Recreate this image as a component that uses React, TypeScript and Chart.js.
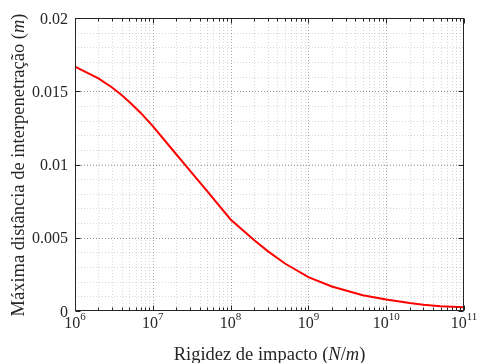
import React, { useEffect, useRef } from 'react';
import { Chart, registerables } from 'chart.js';

Chart.register(...registerables);

// Data
const stiffness = [1e6, 2e6, 3e6, 4e6, 5e6, 7e6, 1e7, 2e7, 3e7, 5e7, 1e8, 2e8, 3e8, 5e8, 1e9, 2e9, 5e9, 1e10, 2e10, 3e10, 5e10, 1e11];
const penetration = [0.01668, 0.01588, 0.01526, 0.01473, 0.01427, 0.01352, 0.01262, 0.0107, 0.00958, 0.00818, 0.00625, 0.00484, 0.00409, 0.00324, 0.00231, 0.00167, 0.00108, 0.00078, 0.00054, 0.00043, 0.00033, 0.00025];
const xTickExponents = [6, 7, 8, 9, 10, 11];
const yTickValues = [0, 0.005, 0.01, 0.015, 0.02];
const yTickLabels = ['0', '0.005', '0.01', '0.015', '0.02'];
const yMinorStep = 0.001;

const FONT = '"Liberation Serif", "Times New Roman", serif';
const TEXT = '#262626';

const matlabPlugin = {
  id: 'matlabAxes',
  beforeDatasetsDraw(chart: any) {
    const { ctx, chartArea: a, scales } = chart;
    const xs = scales.x, ys = scales.y;
    ctx.save();
    ctx.lineWidth = 1;
    ctx.setLineDash([1, 2]);
    ctx.strokeStyle = 'rgba(0,0,0,0.15)';
    for (let e = xTickExponents[0]; e < xTickExponents[xTickExponents.length - 1]; e++) {
      for (let k = 2; k <= 9; k++) {
        const px = Math.round(xs.getPixelForValue(k * Math.pow(10, e))) + 0.5;
        ctx.beginPath(); ctx.moveTo(px, a.top); ctx.lineTo(px, a.bottom); ctx.stroke();
      }
    }
    for (let v = yMinorStep; v < 0.02 - 1e-9; v += yMinorStep) {
      const py = Math.round(ys.getPixelForValue(v)) + 0.5;
      ctx.beginPath(); ctx.moveTo(a.left, py); ctx.lineTo(a.right, py); ctx.stroke();
    }
    ctx.strokeStyle = 'rgba(0,0,0,0.33)';
    xTickExponents.slice(1, -1).forEach((e) => {
      const px = Math.round(xs.getPixelForValue(Math.pow(10, e))) + 0.5;
      ctx.beginPath(); ctx.moveTo(px, a.top); ctx.lineTo(px, a.bottom); ctx.stroke();
    });
    yTickValues.slice(1, -1).forEach((v) => {
      const py = Math.round(ys.getPixelForValue(v)) + 0.5;
      ctx.beginPath(); ctx.moveTo(a.left, py); ctx.lineTo(a.right, py); ctx.stroke();
    });
    ctx.restore();
  },
  afterDatasetsDraw(chart: any) {
    const { ctx, chartArea: a, scales } = chart;
    const xs = scales.x, ys = scales.y;
    ctx.save();
    ctx.strokeStyle = TEXT;
    ctx.lineWidth = 1;
    ctx.setLineDash([]);
    const L = Math.round(a.left) + 0.5, R = Math.round(a.right) - 0.5;
    const T = Math.round(a.top) + 0.5, B = Math.round(a.bottom) - 0.5;
    ctx.strokeRect(L, T, R - L, B - T);
    for (let e = xTickExponents[0]; e <= xTickExponents[xTickExponents.length - 1]; e++) {
      for (let k = 1; k <= 9; k++) {
        if (e === xTickExponents[xTickExponents.length - 1] && k > 1) break;
        const px = Math.round(xs.getPixelForValue(k * Math.pow(10, e))) + 0.5;
        const len = k === 1 ? 5 : 3;
        ctx.beginPath();
        ctx.moveTo(px, B); ctx.lineTo(px, B - len);
        ctx.moveTo(px, T); ctx.lineTo(px, T + len);
        ctx.stroke();
      }
    }
    yTickValues.forEach((v) => {
      const py = Math.round(ys.getPixelForValue(v)) + 0.5;
      ctx.beginPath();
      ctx.moveTo(L, py); ctx.lineTo(L + 5, py);
      ctx.moveTo(R, py); ctx.lineTo(R - 5, py);
      ctx.stroke();
    });
    ctx.restore();
  },
  afterDraw(chart: any) {
    const { ctx, chartArea: a, scales } = chart;
    const xs = scales.x, ys = scales.y;
    ctx.save();
    ctx.fillStyle = TEXT;
    ctx.font = `16px ${FONT}`;
    ctx.textAlign = 'right';
    ctx.textBaseline = 'alphabetic';
    yTickValues.forEach((v, i) => {
      const py = ys.getPixelForValue(v);
      ctx.fillText(yTickLabels[i], a.left - 7, py + 5.5);
    });
    ctx.textAlign = 'left';
    xTickExponents.forEach((e) => {
      const px = xs.getPixelForValue(Math.pow(10, e));
      ctx.font = `16px ${FONT}`;
      const wb = ctx.measureText('10').width;
      ctx.font = `11px ${FONT}`;
      const we = ctx.measureText(String(e)).width;
      const x0 = px - (wb + we) / 2;
      ctx.font = `16px ${FONT}`;
      ctx.fillText('10', x0, a.bottom + 17);
      ctx.font = `11px ${FONT}`;
      ctx.fillText(String(e), x0 + wb, a.bottom + 9);
    });
    const drawParts = (parts: [string, boolean][], size: number) => {
      let total = 0;
      parts.forEach(([t, it]) => {
        ctx.font = `${it ? 'italic ' : ''}${size}px ${FONT}`;
        total += ctx.measureText(t).width;
      });
      let x = -total / 2;
      parts.forEach(([t, it]) => {
        ctx.font = `${it ? 'italic ' : ''}${size}px ${FONT}`;
        ctx.fillText(t, x, 0);
        x += ctx.measureText(t).width;
      });
    };
    ctx.textAlign = 'left';
    ctx.textBaseline = 'alphabetic';
    ctx.save();
    ctx.translate((a.left + a.right) / 2, 360);
    drawParts([['Rigidez de impacto (', false], ['N', true], ['/', false], ['m', true], [')', false]], 18.5);
    ctx.restore();
    ctx.save();
    ctx.translate(23.5, (a.top + a.bottom) / 2 + 0.5);
    ctx.rotate(-Math.PI / 2);
    drawParts([['Máxima distância de interpenetração (', false], ['m', true], [')', false]], 18.5);
    ctx.restore();
    ctx.restore();
  },
};

export default function App() {
  const ref = useRef<HTMLCanvasElement>(null);
  useEffect(() => {
    if (!ref.current) return;
    const chart = new Chart(ref.current, {
      type: 'scatter',
      data: {
        datasets: [
          {
            data: stiffness.map((x, i) => ({ x, y: penetration[i] })),
            showLine: true,
            borderColor: '#ff0000',
            borderWidth: 2,
            pointRadius: 0,
            tension: 0,
          },
        ],
      },
      options: {
        animation: false,
        responsive: false,
        devicePixelRatio: 1,
        layout: { padding: { top: 18, right: 14, left: 0, bottom: 0 } },
        plugins: { legend: { display: false }, tooltip: { enabled: false } },
        scales: {
          x: {
            type: 'logarithmic',
            min: 1e6,
            max: 1e11,
            ticks: { display: false },
            grid: { display: false },
            border: { display: false },
            afterFit: (s: any) => { s.height = 52; },
          },
          y: {
            type: 'linear',
            min: 0,
            max: 0.02,
            ticks: { display: false },
            grid: { display: false },
            border: { display: false },
            afterFit: (s: any) => { s.width = 75; },
          },
        },
      },
      plugins: [matlabPlugin],
    });
    return () => chart.destroy();
  }, []);
  return (
    <div style={{ position: 'fixed', left: 0, top: 0, width: 478, height: 363, background: '#fff' }}>
      <canvas ref={ref} width={478} height={363} />
    </div>
  );
}
